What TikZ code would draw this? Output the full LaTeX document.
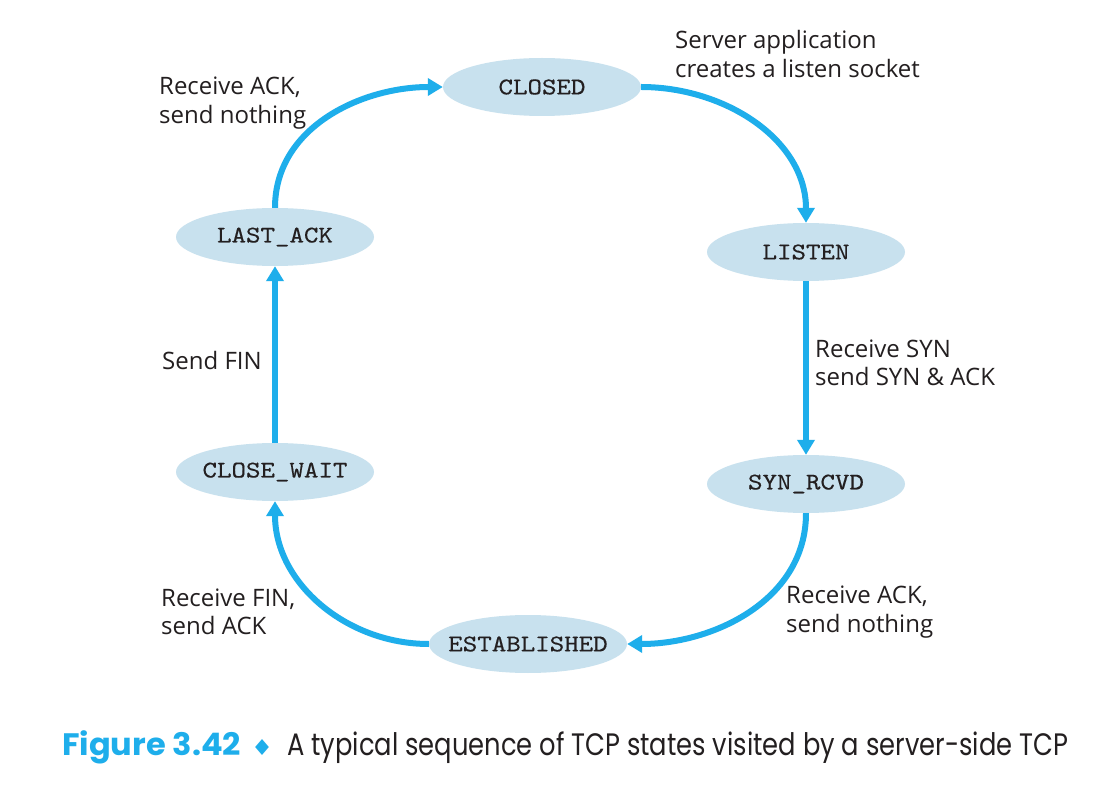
\documentclass[tikz,border=0pt]{standalone}
\usepackage{fontspec}
\setmainfont{Open Sans}
\newfontfamily\capfont{Poppins}
\newfontfamily\symfont{DejaVu Sans}
\newfontfamily\statefont[Extension=.otf, FakeBold=0.35]{lmmono10-regular}
\usetikzlibrary{arrows.meta,shapes.geometric}
\definecolor{arrowblue}{HTML}{1EAEEB}
\definecolor{statefill}{HTML}{C8E1EE}
\definecolor{ink}{HTML}{231F20}
\newcommand{\statetext}[1]{\makebox[0pt]{\scalebox{1.15}[1]{#1}}}
\begin{document}
\begin{tikzpicture}[x=1pt,y=-1pt,
  state/.style={ellipse, fill=statefill, minimum width=198pt, minimum height=58pt, inner sep=0pt, font=\fontsize{24}{28}\statefont, text=ink},
  trans/.style={draw=arrowblue, line width=6pt, -{Triangle[width=17pt,length=15pt]}},
  lbl/.style={align=left, anchor=west, inner sep=0pt, font=\fontsize{24}{28.5}\selectfont, text=ink},
  captionpart/.style={anchor=base west, inner sep=0pt}]
\fill[white] (0,0) rectangle (1096,810);
\useasboundingbox (0,0) rectangle (1096,810);
% states
\node[state] (closed) at (542,87) {\statetext{CLOSED}};
\node[state] (listen) at (806,252) {\statetext{LISTEN}};
\node[state] (synrcvd) at (806,484) {\statetext{SYN\_RCVD}};
\node[state] (estab) at (528,644) {\statetext{ESTABLISHED}};
\node[state] (closewait) at (275,472) {\statetext{CLOSE\_WAIT}};
\node[state] (lastack) at (275,237) {\statetext{LAST\_ACK}};
% transitions
\draw[trans] (closed.east) to[out=0,in=90] (listen.north);
\draw[trans] (listen.south) -- (synrcvd.north);
\draw[trans] (synrcvd.south) to[out=-90,in=0] (estab.east);
\draw[trans] (estab.west) to[out=180,in=-90] (closewait.south);
\draw[trans] (closewait.north) -- (lastack.south);
\draw[trans] (lastack.north) to[out=90,in=180] (closed.west);
% labels
\node[lbl] (l1) at (675,54) {Server application\\creates a listen socket};
\node[lbl] (l2) at (815,363) {Receive SYN\\send SYN \& ACK};
\node[lbl] (l3) at (786,612) {Receive ACK,\\send nothing};
\node[lbl] (l4) at (161,612) {Receive FIN,\\send ACK};
\node[lbl] (l5) at (162,361) {Send FIN};
\node[lbl] (l6) at (159,103) {Receive ACK,\\send nothing};
% caption
\node[captionpart, text=arrowblue, font=\capfont\bfseries\fontsize{31}{36}\selectfont] (fig) at (62,755) {\resizebox{179pt}{\height}{Figure 3.42}};
\node[captionpart, text=arrowblue, font=\symfont\fontsize{24}{30}\selectfont] (dia) at (251,755) {\resizebox{22pt}{16pt}{♦}};
\node[captionpart, text=ink, font=\capfont\fontsize{31}{36}\selectfont] (captext) at (287,755) {\resizebox{781pt}{\height}{A typical sequence of TCP states visited by a server-side TCP}};
\end{tikzpicture}
\end{document}
